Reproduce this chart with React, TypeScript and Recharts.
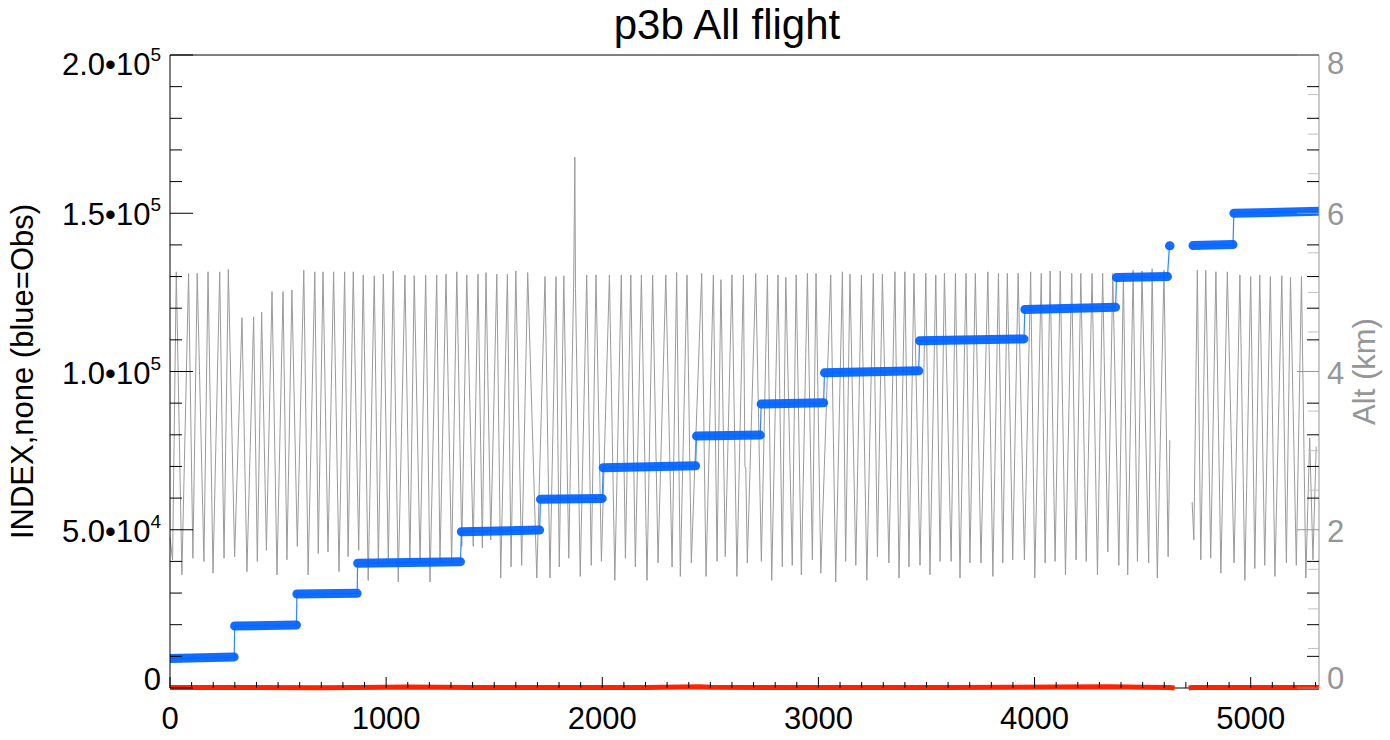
import React from "react";
import { ComposedChart, Line, XAxis, YAxis } from "recharts";

const X_MAX = 5316;
const FONT = "'Liberation Sans', Arial, Helvetica, sans-serif";
const GREY = "#969696";

// altitude trace, [x, km] vertices (null = data gap)
const altTrace: [number, number | null][] = [
  [0, 1.9], [12, 1.62],
  [29, 5.26], [55, 1.43], [86, 5.24], [106, 1.64], [126, 5.24], [157, 1.6],
  [176, 5.26], [199, 1.45], [230, 5.26], [250, 1.64], [270, 5.29], [299, 1.66],
  [333, 4.68], [356, 1.47], [387, 4.69], [404, 1.6], [424, 4.75], [446, 1.74],
  [472, 5.01], [495, 1.43], [523, 5.01], [541, 1.62], [564, 5.03], [589, 1.79],
  [619, 5.28], [639, 1.43], [670, 5.26], [686, 1.7], [708, 5.26], [731, 1.72],
  [757, 5.26], [782, 1.47], [808, 5.26], [824, 1.66], [848, 5.26], [873, 1.74],
  [894, 5.22], [917, 1.36], [945, 5.21], [964, 1.55], [987, 5.23], [1010, 1.58],
  [1033, 5.27], [1056, 1.34], [1087, 5.22], [1110, 1.58], [1130, 5.21], [1157, 1.58],
  [1183, 5.22], [1203, 1.34], [1234, 5.22], [1249, 1.58], [1277, 5.23], [1303, 1.58],
  [1327, 5.26], [1350, 1.79], [1373, 5.22], [1403, 1.79], [1425, 5.23], [1445, 1.77],
  [1462, 5.25], [1484, 1.87], [1489, 2.46], [1512, 5.23], [1530, 1.39],
  [1561, 5.23], [1578, 1.53], [1600, 5.27], [1627, 1.55], [1655, 5.25], [1697, 1.39],
  [1735, 5.2], [1758, 1.39],
  [1786, 5.2], [1801, 1.53], [1822, 5.21], [1845, 1.64],
  [1868, 5.2], [1873, 6.71], [1876, 5.05], [1898, 1.41],
  [1928, 5.22], [1949, 1.55], [1971, 5.22], [1996, 1.6], [2033, 5.22], [2058, 1.36],
  [2088, 5.22], [2107, 1.64], [2132, 5.22], [2153, 1.53], [2181, 5.22], [2207, 1.36],
  [2233, 5.22], [2258, 1.58], [2294, 5.22], [2323, 1.53], [2344, 5.25], [2361, 1.41],
  [2392, 5.22], [2412, 1.58], [2460, 5.24], [2480, 1.41], [2514, 5.22], [2531, 1.6],
  [2549, 5.16], [2569, 1.66], [2600, 5.22], [2623, 1.41],
  [2653, 5.22], [2660, 2.8], [2664, 2.78], [2671, 1.58],
  [2710, 5.24], [2736, 1.6], [2764, 5.22], [2784, 1.36], [2813, 5.22], [2833, 1.53],
  [2849, 5.19], [2879, 1.55], [2897, 5.22], [2921, 1.43], [2949, 5.24], [2972, 1.62],
  [2989, 5.24], [3011, 1.45], [3057, 5.22], [3080, 1.34], [3111, 5.26], [3126, 1.6],
  [3146, 5.23], [3173, 1.55], [3199, 5.22], [3224, 1.36], [3254, 5.24], [3273, 1.66],
  [3296, 5.23], [3326, 1.58], [3354, 5.26], [3373, 1.39], [3400, 5.26], [3419, 1.53],
  [3442, 5.24], [3470, 1.55], [3497, 5.24], [3516, 1.43], [3543, 5.22], [3563, 1.6],
  [3583, 5.24], [3614, 1.6], [3634, 5.24], [3655, 1.39], [3683, 5.24], [3701, 1.58],
  [3726, 5.24], [3752, 1.58], [3784, 5.26], [3807, 1.41], [3833, 5.24], [3853, 1.58],
  [3874, 5.24], [3899, 1.62], [3924, 5.24], [3953, 1.62], [3982, 5.26], [4001, 1.39],
  [4031, 5.24], [4049, 1.58], [4072, 5.27], [4095, 1.6], [4119, 5.27], [4143, 1.43],
  [4172, 5.24], [4192, 1.62], [4214, 5.24], [4239, 1.6], [4266, 5.24], [4291, 1.43],
  [4315, 5.24], [4339, 1.72], [4362, 5.24], [4390, 1.55], [4411, 5.24], [4431, 1.43],
  [4456, 5.28], [4476, 1.6], [4497, 5.27], [4528, 1.58], [4544, 5.3], [4568, 1.39],
  [4599, 5.28], [4618, 1.66], [4626, 3.13],
  [4680, null],
  [4729, 2.35], [4737, 1.87],
  [4753, 5.28], [4769, 1.62], [4792, 5.28], [4815, 1.64], [4839, 5.26], [4862, 1.45],
  [4892, 5.26], [4923, 1.58], [4950, 5.22], [4973, 1.36], [5000, 5.2], [5019, 1.51],
  [5042, 5.22], [5065, 1.55], [5091, 5.2], [5112, 1.41], [5144, 5.21], [5165, 1.58],
  [5184, 5.19], [5211, 1.55], [5235, 5.2], [5255, 1.39], [5273, 3.16], [5288, 1.62],
  [5303, 3.05],
];

// observation index steps: [xStart, indexStart, xEnd, indexEnd]
const obsSteps: [number, number, number, number][] = [
  [0, 9300, 297, 9800],
  [299, 19600, 585, 19900],
  [587, 29700, 866, 29900],
  [868, 39400, 1344, 39900],
  [1348, 49400, 1710, 49900],
  [1714, 59600, 2000, 59900],
  [2004, 69600, 2432, 70200],
  [2436, 79600, 2731, 79900],
  [2735, 89700, 3024, 90100],
  [3028, 99600, 3464, 100200],
  [3468, 109700, 3951, 110300],
  [3955, 119600, 4375, 120300],
  [4379, 129700, 4615, 130000],
  [4624, 139700, 4627, 139700],
  [4733, 139800, 4918, 140100],
  [4922, 150000, 5316, 150600],
];

// model index along the bottom (red), null = data gap
const modelTrace: [number, number | null][] = [
  [0, 120], [300, 150], [700, 100], [1000, 200], [1100, 320], [1400, 120],
  [1800, 150], [2200, 120], [2450, 420], [2500, 250], [2800, 150], [3200, 120],
  [3600, 180], [3900, 220], [4100, 300], [4350, 400], [4500, 200], [4625, 150],
  [4648, 0], [4680, null], [4713, 0], [4730, 150], [5000, 150], [5316, 120],
];

const xTicks = Array.from({ length: 54 }, (_, i) => i * 100);
const idxTicks = Array.from({ length: 21 }, (_, i) => i * 10000);
const altTicks = Array.from({ length: 81 }, (_, i) => i)
  .filter((i) => i % 4 === 0 || i % 5 === 0)
  .map((i) => i / 10);

const altData = altTrace.map(([x, km]) => ({ x, km }));
const modelData = modelTrace.map(([x, v]) => ({ x, v }));
const stepData = obsSteps.flatMap(([x0, v0, x1, v1]) => [
  { x: x0, v: v0 },
  { x: x1, v: v1 },
  { x: x1, v: null },
]);
const linkData: { x: number; v: number | null }[] = [];
obsSteps.forEach(([x0, v0, x1, v1], i) => {
  if (i > 0 && x0 - obsSteps[i - 1][2] > 50) linkData.push({ x: x0, v: null });
  linkData.push({ x: x0, v: v0 }, { x: x1, v: v1 });
});

const BottomTick = (p: any) => {
  const v = p.payload.value;
  const major = v % 1000 === 0;
  return (
    <g>
      <line x1={p.x} x2={p.x} y1={p.y} y2={p.y - (major ? 11 : 6)} stroke="#000" />
      {major && (
        <text x={p.x} y={p.y + 41} textAnchor="middle" fontSize={31} fontFamily={FONT} fill="#000">
          {v}
        </text>
      )}
    </g>
  );
};

const TopTick = (p: any) => {
  const major = p.payload.value % 1000 === 0;
  return <line x1={p.x} x2={p.x} y1={p.y} y2={p.y + (major ? 11 : 6)} stroke="#000" />;
};

const sciLabel = (v: number) => {
  if (v === 0) return { mant: "0", exp: "" };
  const exp = Math.floor(Math.log10(v));
  return { mant: (v / Math.pow(10, exp)).toFixed(1) + "\u202210", exp: String(exp) };
};

const LeftTick = (p: any) => {
  const v = p.payload.value;
  const major = v % 50000 === 0;
  const { mant, exp } = sciLabel(v);
  const dy = v === 200000 ? 20 : v === 0 ? 2 : 12;
  return (
    <g>
      <line x1={p.x} x2={p.x + (major ? 23 : 12)} y1={p.y} y2={p.y} stroke="#000" />
      {major && (
        <text x={p.x - 9} y={p.y + dy} textAnchor="end" fontSize={31} fontFamily={FONT} fill="#000">
          {mant}
          {exp && (
            <tspan dy={-14} fontSize={19}>
              {exp}
            </tspan>
          )}
        </text>
      )}
    </g>
  );
};

const RightTick = (p: any) => {
  const v = p.payload.value;
  const i = Math.round(v * 10);
  const major = i % 20 === 0;
  const dy = i === 80 ? 19 : i === 0 ? 1 : 12;
  let len = 11;
  let color = "#c0c0c0";
  if (major) {
    len = 22;
    color = GREY;
  } else if (i % 4 === 0) {
    len = 12;
    color = "#000";
  }
  return (
    <g>
      <line x1={p.x} x2={p.x - len} y1={p.y} y2={p.y} stroke={color} />
      {major && (
        <text x={p.x + 8} y={p.y + dy} textAnchor="start" fontSize={31} fontFamily={FONT} fill={GREY}>
          {Math.round(v)}
        </text>
      )}
    </g>
  );
};

const IdxLabel = (p: any) => {
  const vb = p.viewBox;
  const x = vb.x + 33;
  const y = vb.y + vb.height / 2;
  return (
    <text x={x} y={y} transform={`rotate(-90, ${x}, ${y})`} textAnchor="middle" fontSize={31} fontFamily={FONT} fill="#000">
      INDEX,none (blue=Obs)
    </text>
  );
};

const AltLabel = (p: any) => {
  const vb = p.viewBox;
  const x = vb.x + 56;
  const y = vb.y + vb.height / 2;
  return (
    <text x={x} y={y} transform={`rotate(-90, ${x}, ${y})`} textAnchor="middle" fontSize={31} fontFamily={FONT} fill={GREY}>
      Alt (km)
    </text>
  );
};

export default function App() {
  return (
    <div style={{ position: "absolute", left: 0, top: 0, width: 1390, height: 740, background: "#fff" }}>
      <div style={{ position: "absolute", left: 0, top: 0 }}>
        <ComposedChart width={1390} height={740} margin={{ top: 54, right: 0, bottom: 0, left: 0 }}>
          <XAxis
            xAxisId="b"
            type="number"
            dataKey="x"
            domain={[0, X_MAX]}
            ticks={xTicks}
            interval={0}
            height={52}
            tickLine={false}
            tickSize={0}
            tickMargin={0}
            tick={BottomTick}
            axisLine={{ stroke: "#000" }}
          />
          <XAxis
            xAxisId="t"
            orientation="top"
            type="number"
            dataKey="x"
            domain={[0, X_MAX]}
            ticks={xTicks}
            interval={0}
            height={1}
            tickLine={false}
            tickSize={0}
            tickMargin={0}
            tick={TopTick}
            axisLine={{ stroke: "#000" }}
          />
          <XAxis xAxisId="clip" hide type="number" dataKey="x" domain={[0, X_MAX]} allowDataOverflow />
          <YAxis
            yAxisId="idx"
            type="number"
            domain={[0, 200000]}
            ticks={idxTicks}
            interval={0}
            width={170}
            tickLine={false}
            tickSize={0}
            tickMargin={0}
            tick={LeftTick}
            axisLine={{ stroke: "#000" }}
            label={IdxLabel}
          />
          <YAxis
            yAxisId="alt"
            orientation="right"
            type="number"
            domain={[0, 8]}
            ticks={altTicks}
            interval={0}
            width={71}
            tickLine={false}
            tickSize={0}
            tickMargin={0}
            tick={RightTick}
            axisLine={{ stroke: GREY }}
            label={AltLabel}
          />
          <Line
            data={altData}
            xAxisId="b"
            yAxisId="alt"
            dataKey="km"
            stroke="#9a9a9a"
            strokeWidth={1}
            dot={false}
            isAnimationActive={false}
          />
          <Line
            data={modelData}
            xAxisId="b"
            yAxisId="idx"
            dataKey="v"
            stroke="#ff2200"
            strokeWidth={5}
            dot={false}
            zIndex={600}
            isAnimationActive={false}
          />
          <Line
            data={linkData}
            xAxisId="clip"
            yAxisId="idx"
            dataKey="v"
            stroke="#3385ff"
            strokeWidth={1.2}
            dot={false}
            isAnimationActive={false}
          />
          <Line
            data={stepData}
            xAxisId="clip"
            yAxisId="idx"
            dataKey="v"
            stroke="#0062ff"
            strokeWidth={9}
            strokeLinecap="round"
            strokeOpacity={0.93}
            dot={false}
            isAnimationActive={false}
          />
        </ComposedChart>
      </div>
      <svg width={1390} height={60} style={{ position: "absolute", left: 0, top: 0, overflow: "visible" }}>
        <text x={727} y={39} textAnchor="middle" fontSize={42} fontFamily={FONT} fill="#000">
          p3b All flight
        </text>
      </svg>
    </div>
  );
}
